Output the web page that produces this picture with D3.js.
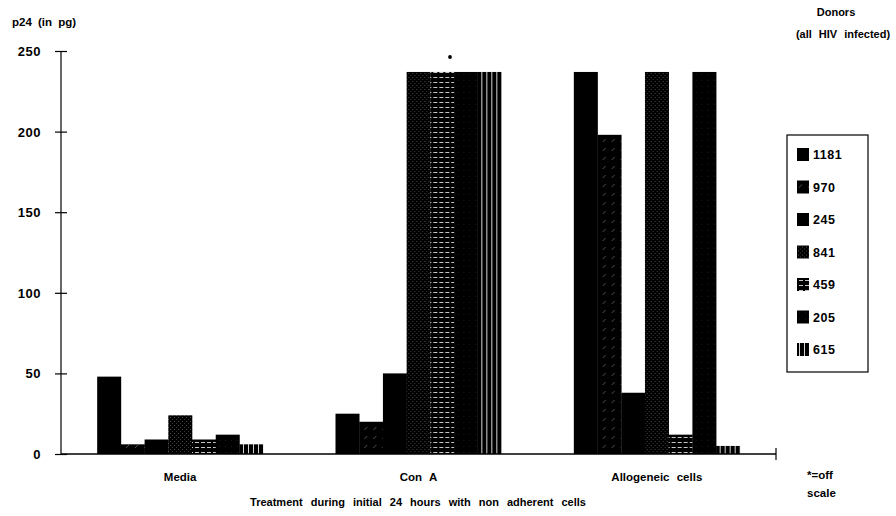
<!DOCTYPE html>
<html>
  <head>
    <title>p24 by treatment</title>
    <meta http-equiv="Content-Type" content="text/html; charset=UTF-8">
    <script src="https://d3js.org/d3.v7.min.js"></script>
    <style>
      body { margin: 0; background: #fff; }
      text { font-family: "Liberation Sans", Arial, sans-serif; font-weight: bold; fill: #000; }
    </style>
  </head>

  <body>
    <div id="chart"></div>

    <script>
      // chart data
      var treatments = ["Media", "Con A", "Allogeneic cells"];
      var donors = ["1181", "970", "245", "841", "459", "205", "615"];
      // p24 per donor, same order as donors; off-scale bars drawn at 237
      var media = [48, 6, 9, 24, 9, 12, 6];
      var conA = [25, 20, 50, 237, 237, 237, 237];
      var allogeneic = [237, 198, 38, 237, 12, 237, 5];
      var yTicks = [0, 50, 100, 150, 200, 250];

      var values = [media, conA, allogeneic];

      var width = 896, height = 516;
      var svg = d3.select("#chart").append("svg")
        .attr("width", width).attr("height", height);

      var defs = svg.append("defs");

      function pattern(id, w, h, draw) {
        var p = defs.append("pattern").attr("id", id)
          .attr("patternUnits", "userSpaceOnUse")
          .attr("width", w).attr("height", h);
        p.append("rect").attr("width", w).attr("height", h).attr("fill", "#000");
        draw(p);
      }
      pattern("p970", 9, 9, function (p) {
        p.append("path").attr("d", "M2,7 L5,4").attr("stroke", "#888").attr("stroke-width", 0.6);
      });
      pattern("p841", 4, 4, function (p) {
        p.append("rect").attr("x", 1).attr("y", 1).attr("width", 0.7).attr("height", 0.7).attr("fill", "#999");
        p.append("rect").attr("x", 3).attr("y", 3).attr("width", 0.7).attr("height", 0.7).attr("fill", "#777");
      });
      pattern("p459", 6, 5, function (p) {
        p.append("rect").attr("x", 2).attr("y", 2).attr("width", 4).attr("height", 0.9).attr("fill", "#ddd");
      });
      pattern("p205", 6, 6, function (p) {
        p.append("rect").attr("x", 2).attr("y", 2).attr("width", 0.5).attr("height", 0.5).attr("fill", "#666");
      });
      pattern("p615", 5, 6, function (p) {
        p.append("rect").attr("x", 2).attr("y", 0).attr("width", 0.9).attr("height", 6).attr("fill", "#eee");
      });

      var fills = {
        "1181": "#000", "970": "url(#p970)", "245": "#000", "841": "url(#p841)",
        "459": "url(#p459)", "205": "url(#p205)", "615": "url(#p615)"
      };

      var x0 = d3.scaleBand().domain(treatments).range([61, 776]);
      var x1 = d3.scaleBand().domain(donors)
        .range([(x0.bandwidth() - 166) / 2, (x0.bandwidth() + 166) / 2]);
      var y = d3.scaleLinear().domain([0, 250]).range([454, 51]);

      // bars
      var groups = svg.selectAll("g.group").data(treatments).enter().append("g")
        .attr("class", "group")
        .attr("transform", function (d) { return "translate(" + x0(d) + ",0)"; });

      groups.selectAll("rect").data(function (d, i) {
          return donors.map(function (k, j) { return { donor: k, value: values[i][j] }; });
        }).enter().append("rect")
        .attr("x", function (d) { return x1(d.donor); })
        .attr("width", x1.bandwidth() + 0.3)
        .attr("y", function (d) { return y(d.value); })
        .attr("height", function (d) { return y(0) - y(d.value); })
        .attr("fill", function (d) { return fills[d.donor]; });

      // y axis, ticks cross the line
      var yAxis = svg.append("g").attr("transform", "translate(61,0)")
        .call(d3.axisLeft(y).tickValues(yTicks).tickSize(6).tickPadding(14));
      yAxis.select(".domain").attr("stroke", "#000").attr("stroke-width", 1.2).attr("d", "M0," + y(0) + "V" + y(250));
      yAxis.selectAll(".tick line").attr("x1", -6).attr("x2", 6).attr("stroke-width", 1.2);
      yAxis.selectAll(".tick text").style("font-size", "13px").style("font-family", "'Liberation Sans', Arial, sans-serif")
        .style("font-weight", "bold").style("letter-spacing", "0.5px").attr("dy", "0.35em");

      // x axis
      var xAxis = svg.append("g").attr("transform", "translate(0," + y(0) + ")")
        .call(d3.axisBottom(x0).tickSize(0).tickPadding(19));
      xAxis.select(".domain").attr("stroke-width", 1.4).attr("d", "M61,0H776");
      xAxis.append("line").attr("x1", 776).attr("x2", 776).attr("y1", -6).attr("y2", 6)
        .attr("stroke", "#000").attr("stroke-width", 1.2);
      xAxis.selectAll(".tick text").style("font-size", "11.5px").style("font-family", "'Liberation Sans', Arial, sans-serif")
        .style("font-weight", "bold").style("word-spacing", "4px");

      // off-scale marker over Con A
      svg.append("circle").attr("cx", 450).attr("cy", 57).attr("r", 1.9).attr("fill", "#000");

      // titles
      svg.append("text").attr("x", 12).attr("y", 26).style("font-size", "11.5px")
        .style("word-spacing", "3px").text("p24 (in pg)");
      svg.append("text").attr("x", 418).attr("y", 506).attr("text-anchor", "middle")
        .style("font-size", "11px").style("word-spacing", "5px")
        .text("Treatment during initial 24 hours with non adherent cells");
      svg.append("text").attr("x", 836).attr("y", 16).attr("text-anchor", "middle")
        .style("font-size", "11px").text("Donors");
      svg.append("text").attr("x", 843).attr("y", 38).attr("text-anchor", "middle")
        .style("font-size", "11px").style("word-spacing", "4px").text("(all HIV infected)");
      svg.append("text").attr("x", 807).attr("y", 479).style("font-size", "11.5px").text("*=off");
      svg.append("text").attr("x", 807).attr("y", 497).style("font-size", "11.5px").text("scale");

      // legend
      var legend = svg.append("g");
      legend.append("rect").attr("x", 787).attr("y", 135).attr("width", 81).attr("height", 237)
        .attr("fill", "none").attr("stroke", "#000").attr("stroke-width", 1.2);
      var rows = legend.selectAll("g.row").data(donors).enter().append("g")
        .attr("class", "row")
        .attr("transform", function (d, i) { return "translate(797," + (148 + i * 32.5) + ")"; });
      rows.append("rect").attr("width", 12).attr("height", 13)
        .attr("fill", function (d) { return fills[d]; });
      rows.append("text").attr("x", 16).attr("y", 11).style("font-size", "12.5px")
        .style("letter-spacing", "0.5px").text(function (d) { return d; });
    </script>
  </body>
</html>
